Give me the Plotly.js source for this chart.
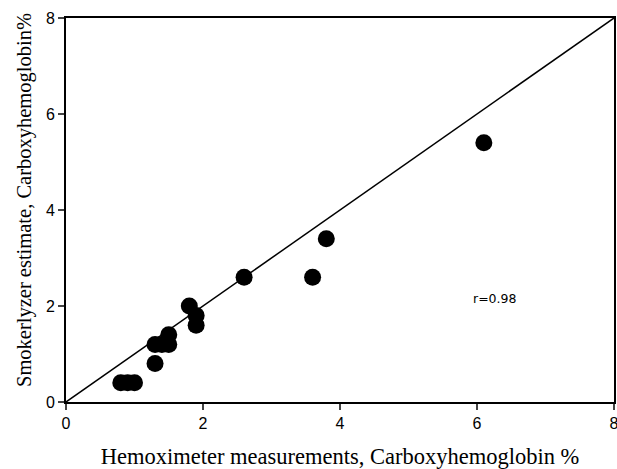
<!DOCTYPE html>
<html><head><meta charset="utf-8">
<script src="https://cdn.plot.ly/plotly-3.0.1.min.js"></script>
<style>html,body{margin:0;padding:0;background:#fff}#chart{width:617px;height:469px}</style>
</head><body><div id="chart"></div>
<script>
const hemoximeter = [0.8, 0.9, 1.0, 1.3, 1.3, 1.4, 1.5, 1.5, 1.8, 1.9, 1.9, 2.6, 3.6, 3.8, 6.1];
const smokerlyzer = [0.4, 0.4, 0.4, 0.8, 1.2, 1.2, 1.2, 1.4, 2.0, 1.8, 1.6, 2.6, 2.6, 3.4, 5.4];
const identityLine = [0, 8];
const tickValues = [0, 2, 4, 6, 8];
const xTitle = 'Hemoximeter measurements, Carboxyhemoglobin %';
const yTitle = 'Smokerlyzer estimate, Carboxyhemoglobin%';
const annotationText = "r=0.98";
const annotationPos = [6.26, 2.15];

const traces = [
  {x: identityLine, y: identityLine, mode: 'lines', line: {color: '#000', width: 1.5}, hoverinfo: 'skip'},
  {x: hemoximeter, y: smokerlyzer, mode: 'markers', marker: {color: '#000', size: 17}}
];
const axisCommon = {
  range: [0, 8], tickvals: tickValues, ticks: 'outside', ticklen: 6, tickwidth: 1.5,
  showline: true, linewidth: 2, linecolor: '#000', mirror: true, showgrid: false, zeroline: false,
  ticklabeloverflow: 'allow',
  tickfont: {family: 'Liberation Sans, Arial, sans-serif', size: 16, color: '#000'}
};
const layout = {
  width: 617, height: 469, showlegend: false,
  margin: {l: 66, r: 3, t: 18, b: 67},
  paper_bgcolor: '#fff', plot_bgcolor: '#fff',
  xaxis: Object.assign({}, axisCommon, {
    title: {text: xTitle, standoff: 25,
      font: {family: 'Liberation Serif, Times New Roman, serif', size: 22.5, color: '#000'}}
  }),
  yaxis: Object.assign({}, axisCommon, {}),
  annotations: [
    {x: annotationPos[0], y: annotationPos[1], text: annotationText, showarrow: false,
      font: {family: 'DejaVu Sans, sans-serif', size: 12.5, color: '#000'}},
    {xref: 'paper', yref: 'paper', x: 0, y: 0.526, xanchor: 'center', yanchor: 'middle',
      xshift: -42, textangle: -90, text: yTitle, showarrow: false,
      font: {family: 'Liberation Serif, Times New Roman, serif', size: 20.5, color: '#000'}}
  ]
};
Plotly.newPlot('chart', traces, layout, {displayModeBar: false, staticPlot: true});
</script></body></html>
